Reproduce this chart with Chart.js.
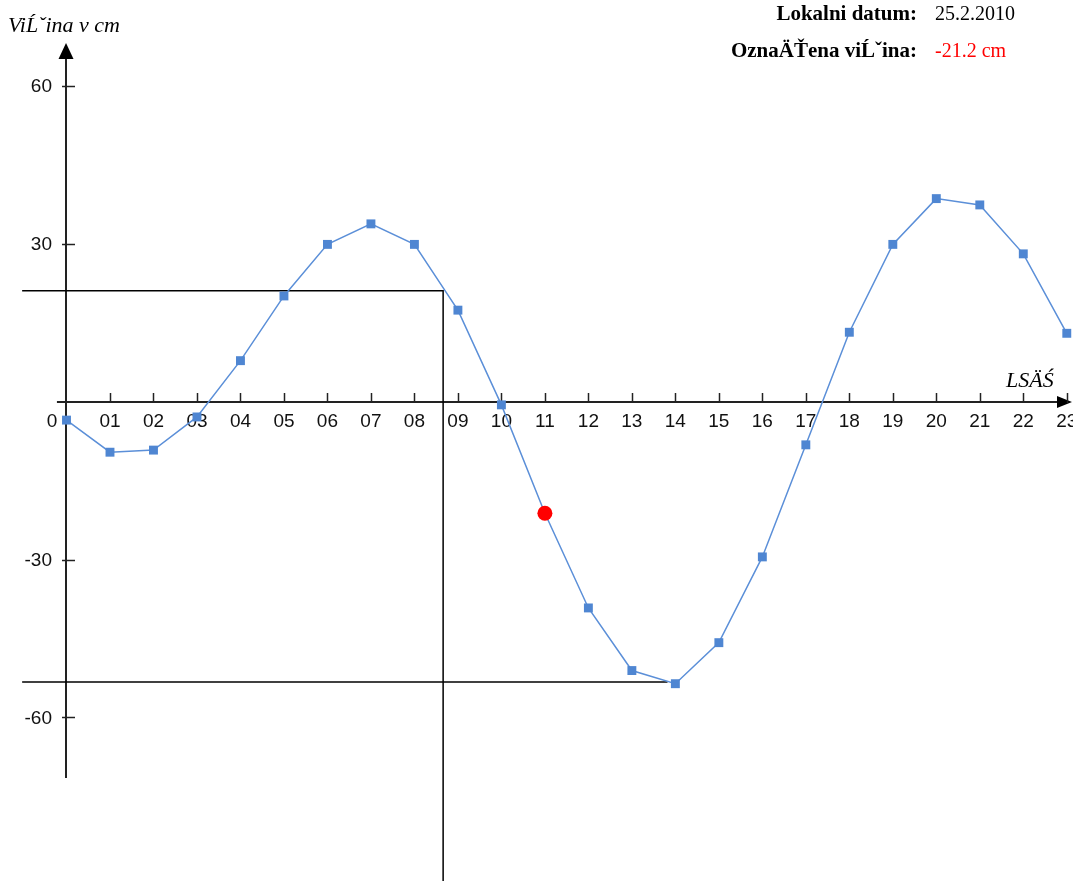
<!DOCTYPE html>
<html>
<head>
<meta charset="utf-8">
<script src="https://cdn.jsdelivr.net/npm/chart.js@4/dist/chart.umd.min.js"></script>
<style>
  html, body { margin: 0; padding: 0; background: #fff; }
  #wrap { width: 1073px; height: 881px; }
</style>
</head>
<body>
<div id="wrap"><canvas id="tideChart" width="1073" height="881"></canvas></div>
<script>
// Hourly water height (cm) for 25.2.2010
const hours = [0, 1, 2, 3, 4, 5, 6, 7, 8, 9, 10, 11, 12, 13, 14, 15, 16, 17, 18, 19, 20, 21, 22, 23];
const heights = [-3.5, -9.6, -9.2, -2.9, 7.8, 20.1, 29.9, 33.8, 29.9, 17.4, -0.6, -21.2,
                 -39.2, -51.1, -53.6, -45.8, -29.5, -8.2, 13.2, 29.9, 38.6, 37.4, 28.1, 13.0];
const xTickLabels = ["0", "01", "02", "03", "04", "05", "06", "07", "08", "09", "10", "11",
                     "12", "13", "14", "15", "16", "17", "18", "19", "20", "21", "22", "23"];
const yTicks = [60, 30, -30, -60];

// Marked value
const markedHour = 11;
const markedHeight = -21.2;

// Guide lines (max / min markers)
const highGuide = [{ x: -1.02, y: 21.1 }, { x: 8.66, y: 21.1 }, { x: 8.66, y: -95 }];
const lowGuide = [{ x: -1.02, y: -53.3 }, { x: 13.82, y: -53.3 }];

const infoLabels = ["Lokalni datum:", "OznaÄŤena viĹˇina:"];
const infoValues = ["25.2.2010", markedHeight.toFixed(1) + " cm"];
const yTitle = "ViĹˇina v cm";
const xTitle = "LSÄŚ";

const axesPlugin = {
    id: "axesPlugin",
    beforeDatasetsDraw(chart) {
        const ctx = chart.ctx;
        const xs = chart.scales.x, ys = chart.scales.y;
        const x0 = Math.round(xs.getPixelForValue(0));
        const y0 = Math.round(ys.getPixelForValue(0));
        ctx.save();
        ctx.strokeStyle = "#222";
        ctx.fillStyle = "#000";
        ctx.lineWidth = 2;

        // y axis
        ctx.beginPath();
        ctx.moveTo(x0, ys.getPixelForValue(66));
        ctx.lineTo(x0, ys.getPixelForValue(-71.5));
        ctx.stroke();
        ctx.beginPath();
        ctx.moveTo(x0, 43);
        ctx.lineTo(x0 - 7.5, 59);
        ctx.lineTo(x0 + 7.5, 59);
        ctx.closePath();
        ctx.fill();

        // x axis
        ctx.beginPath();
        ctx.moveTo(xs.getPixelForValue(-0.22), y0);
        ctx.lineTo(xs.getPixelForValue(22.8), y0);
        ctx.stroke();
        ctx.beginPath();
        ctx.moveTo(1072, y0);
        ctx.lineTo(1057, y0 - 6);
        ctx.lineTo(1057, y0 + 6);
        ctx.closePath();
        ctx.fill();

        // ticks
        ctx.lineWidth = 1.5;
        yTicks.forEach(v => {
            const py = Math.round(ys.getPixelForValue(v)) + 0.5;
            ctx.beginPath();
            ctx.moveTo(x0 - 4, py);
            ctx.lineTo(x0 + 9, py);
            ctx.stroke();
        });
        hours.forEach(h => {
            if (h === 0) return;
            const px = Math.round(xs.getPixelForValue(h)) + 0.5;
            ctx.beginPath();
            ctx.moveTo(px, y0 - 9);
            ctx.lineTo(px, y0 + 1);
            ctx.stroke();
        });

        // tick labels
        ctx.font = "19px 'Liberation Sans', Arial, sans-serif";
        ctx.fillStyle = "#111";
        ctx.textBaseline = "middle";
        ctx.textAlign = "right";
        yTicks.forEach(v => {
            ctx.fillText(String(v), x0 - 14, ys.getPixelForValue(v) + 1);
        });
        ctx.textAlign = "center";
        hours.forEach((h, i) => {
            const px = h === 0 ? x0 - 14 : xs.getPixelForValue(h);
            ctx.fillText(xTickLabels[i], px, y0 + 20);
        });
        ctx.restore();
    },
    afterDraw(chart) {
        const ctx = chart.ctx;
        ctx.save();
        ctx.textBaseline = "alphabetic";
        ctx.fillStyle = "#000";

        // axis titles
        ctx.font = "italic 22px 'Liberation Serif', 'Times New Roman', serif";
        ctx.textAlign = "left";
        ctx.fillText(yTitle, 8, 32);
        ctx.fillText(xTitle, 1006, 387);

        // info block
        ctx.font = "bold 21px 'Liberation Serif', 'Times New Roman', serif";
        ctx.textAlign = "right";
        ctx.fillText(infoLabels[0], 917, 20);
        ctx.fillText(infoLabels[1], 917, 57);
        ctx.font = "20px 'Liberation Serif', 'Times New Roman', serif";
        ctx.textAlign = "left";
        ctx.fillText(infoValues[0], 935, 20);
        ctx.fillStyle = "#ff0000";
        ctx.fillText(infoValues[1], 935, 57);
        ctx.restore();
    }
};

const ctx = document.getElementById("tideChart").getContext("2d");
new Chart(ctx, {
    type: "line",
    data: {
        datasets: [
            {
                label: "marked",
                data: [{ x: markedHour, y: markedHeight }],
                showLine: false,
                pointStyle: "circle",
                pointRadius: 7.5,
                pointBackgroundColor: "#ff0000",
                pointBorderColor: "#ff0000",
                borderWidth: 0,
                order: 0
            },
            {
                label: "height",
                data: hours.map((h, i) => ({ x: h, y: heights[i] })),
                borderColor: "#5b8fd8",
                borderWidth: 1.5,
                pointStyle: "rect",
                pointRadius: 6.3,
                pointBackgroundColor: "#4f86d2",
                pointBorderColor: "#4f86d2",
                pointBorderWidth: 0,
                tension: 0,
                clip: false,
                order: 1
            },
            {
                label: "high",
                data: highGuide,
                borderColor: "#000",
                borderWidth: 1.5,
                pointRadius: 0,
                clip: false,
                order: 2
            },
            {
                label: "low",
                data: lowGuide,
                borderColor: "#000",
                borderWidth: 1.5,
                pointRadius: 0,
                clip: false,
                order: 2
            }
        ]
    },
    options: {
        responsive: false,
        animation: false,
        events: [],
        layout: { padding: 0, autoPadding: false },
        plugins: { legend: { display: false }, tooltip: { enabled: false } },
        scales: {
            x: { type: "linear", min: -1.529, max: 23.143, display: false },
            y: { type: "linear", min: -91.1, max: 76.35, display: false }
        }
    },
    plugins: [axesPlugin]
});
</script>
</body>
</html>
